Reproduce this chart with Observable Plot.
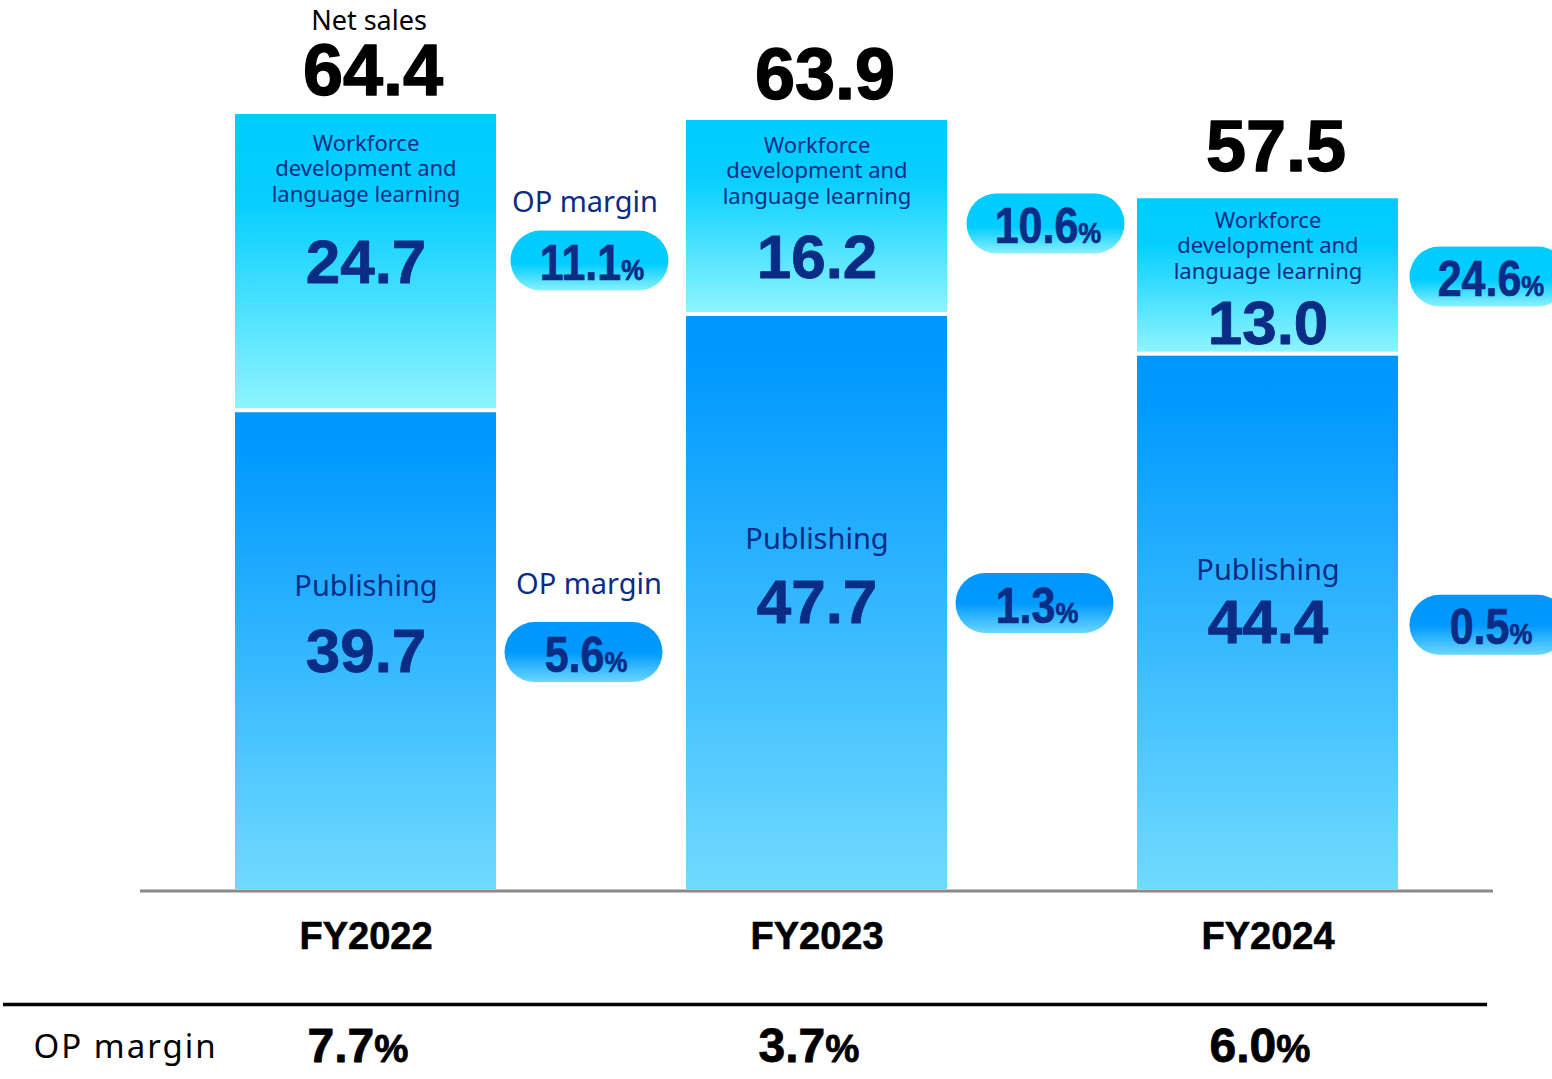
<!DOCTYPE html>
<html><head><meta charset="utf-8">
<script src="https://cdn.jsdelivr.net/npm/d3@7"></script>
<script src="https://cdn.jsdelivr.net/npm/@observablehq/plot@0.6"></script>
<style>
html,body{margin:0;padding:0;background:#fff;overflow:hidden}
#chart svg{display:block}
</style>
</head><body><div id="chart"></div>
<script>
// ---- data ----
const years = ["FY2022", "FY2023", "FY2024"];
const netSales = [64.4, 63.9, 57.5];
const publishing = [39.7, 47.7, 44.4];
const workforce = [24.7, 16.2, 13.0];
const opMarginWorkforce = [11.1, 10.6, 24.6];
const opMarginPublishing = [5.6, 1.3, 0.5];
const opMarginTotal = [7.7, 3.7, 6.0];
const wfLabel = "Workforce\ndevelopment and\nlanguage learning";
const pubLabel = "Publishing";
const netSalesLabel = "Net sales";
const opLabel = "OP margin";

const rows = years.map((year, i) => ({
  year, total: netSales[i], pub: publishing[i], wf: workforce[i],
  opWf: opMarginWorkforce[i], opPub: opMarginPublishing[i], opTot: opMarginTotal[i]
}));

// ---- layout (pixels) ----
const W = 1552, H = 1079;
const mT = 114, mB = 190, mL = 140, mR = 59;
const yMax = d3.max(rows, d => d.pub + d.wf);
const pxPerUnit = (H - mT - mB) / yMax;
const pillHalf = 30 / pxPerUnit;
const L = {
  totalDy: [-20, -22, -27], totalDx: [7, 8, 8],
  wfLabelDy: [18, 14, 11],
  wfValueDy: [149, 138, 125],
  pubLabelDy: [-64, -63, -52],
  pubValueDy: [2, 1, 1],
  wfPillDx: [224, 229, 221], wfPillDy: [-2, 6, 0],
  pubPillDx: [218, 218, 221], pubPillDy: [2, 1, 3]
};
const navy = "#0a2c84";
const sans = "'Noto Sans', 'Open Sans', sans-serif";
const num = "'Liberation Sans', Arial, sans-serif";
const PILL_FS = 50, ROW_FS = 48;
const fmt = v => v.toFixed(1);

const perYear = years.flatMap((yr, i) => {
  const d = rows.filter(r => r.year === yr);
  const wfMid = r => r.pub + r.wf / 2;
  const pubMid = r => r.pub / 2;
  return [
    Plot.text(d, {x: "year", y: "total", text: r => fmt(r.total), lineAnchor: "bottom",
      dy: L.totalDy[i], dx: L.totalDx[i], fontSize: 72, fontWeight: "bold", fontFamily: num,
      fill: "#000", stroke: "#000", strokeWidth: 1.4}),
    Plot.text(d, {x: "year", y: r => r.pub + r.wf, text: () => wfLabel, lineAnchor: "top",
      dy: L.wfLabelDy[i], fontSize: 22, lineHeight: 1.16, fontFamily: sans, fill: navy}),
    Plot.text(d, {x: "year", y: r => r.pub + r.wf, text: r => fmt(r.wf), lineAnchor: "middle",
      dy: L.wfValueDy[i], fontSize: 62, fontWeight: "bold", fontFamily: num, fill: navy, stroke: navy, strokeWidth: 0.8}),
    Plot.text(d, {x: "year", y: pubMid, text: () => pubLabel, lineAnchor: "middle",
      dy: L.pubLabelDy[i], fontSize: 29, fontFamily: sans, fill: navy}),
    Plot.text(d, {x: "year", y: pubMid, text: r => fmt(r.pub), lineAnchor: "middle",
      dy: L.pubValueDy[i], fontSize: 62, fontWeight: "bold", fontFamily: num, fill: navy, stroke: navy, strokeWidth: 0.8}),
    Plot.barY(d, {x: "year", y1: r => wfMid(r) - pillHalf, y2: r => wfMid(r) + pillHalf,
      rx: 30, insetLeft: 51.5, insetRight: 51.5, dx: L.wfPillDx[i], dy: L.wfPillDy[i], fill: "url(#gPillWf)"}),
    Plot.text(d, {x: "year", y: wfMid, text: r => fmt(r.opWf) + "%", lineAnchor: "middle",
      dx: L.wfPillDx[i] + 2, dy: L.wfPillDy[i] + 3, fontSize: PILL_FS, fontWeight: "bold", fontFamily: num, fill: navy, stroke: navy, strokeWidth: 0.7}),
    Plot.barY(d, {x: "year", y1: r => pubMid(r) - pillHalf, y2: r => pubMid(r) + pillHalf,
      rx: 30, insetLeft: 51.5, insetRight: 51.5, dx: L.pubPillDx[i], dy: L.pubPillDy[i], fill: "url(#gPillPub)"}),
    Plot.text(d, {x: "year", y: pubMid, text: r => fmt(r.opPub) + "%", lineAnchor: "middle",
      dx: L.pubPillDx[i] + 2, dy: L.pubPillDy[i] + 3, fontSize: PILL_FS, fontWeight: "bold", fontFamily: num, fill: navy, stroke: navy, strokeWidth: 0.7})
  ];
});

const first = rows.slice(0, 1);
const chart = Plot.plot({
  width: W, height: H,
  marginTop: mT, marginBottom: mB, marginLeft: mL, marginRight: mR,
  style: {background: "#fff", overflow: "hidden"},
  x: {domain: years, paddingInner: 190 / 451, paddingOuter: 95 / 451, align: 0.5, axis: null},
  y: {domain: [0, yMax], axis: null},
  marks: [
    Plot.barY(rows, {x: "year", y1: 0, y2: "pub", insetTop: 1, fill: "url(#gPub)"}),
    Plot.barY(rows, {x: "year", y1: "pub", y2: r => r.pub + r.wf, insetBottom: 3, fill: "url(#gWf)"}),
    Plot.ruleY([0], {stroke: "#8a8a8a", strokeWidth: 3, dy: 1.5}),
    ...perYear,
    Plot.text(first, {x: "year", y: "total", text: () => netSalesLabel, lineAnchor: "bottom",
      dy: -85, dx: 3, fontSize: 27, fontFamily: sans, fill: "#000"}),
    Plot.text(first, {x: "year", y: r => r.pub + r.wf / 2, text: () => opLabel, lineAnchor: "middle",
      dx: 219, dy: -60, fontSize: 29, fontFamily: sans, fill: navy}),
    Plot.text(first, {x: "year", y: r => r.pub / 2, text: () => opLabel, lineAnchor: "middle",
      dx: 223, dy: -66, fontSize: 29, fontFamily: sans, fill: navy}),
    // category labels
    Plot.text(rows, {x: "year", frameAnchor: "bottom", text: "year", lineAnchor: "middle",
      dy: 47, fontSize: 38, fontWeight: "bold", fontFamily: num, fill: "#000", stroke: "#000", strokeWidth: 0.6}),
    // bottom separator
    Plot.ruleY([0], {stroke: "#000", strokeWidth: 3.5, dy: 115, insetLeft: -137, insetRight: 6}),
    // OP margin row
    Plot.text([opLabel], {text: d => d, frameAnchor: "bottom-left", textAnchor: "start", lineAnchor: "middle",
      dx: -107, dy: 158, fontSize: 33, fontFamily: sans, fill: "#000"}),
    Plot.text(rows, {x: "year", frameAnchor: "bottom", text: r => fmt(r.opTot) + "%", lineAnchor: "middle",
      dx: -8, dy: 157, fontSize: ROW_FS, fontWeight: "bold", fontFamily: num, fill: "#000", stroke: "#000", strokeWidth: 0.8})
  ]
});

// gradients
const svgEl = chart.tagName.toLowerCase() === "svg" ? chart : chart.querySelector("svg");
const svg = d3.select(svgEl);
const defs = svg.insert("defs", ":first-child");
function grad(id, stops) {
  const g = defs.append("linearGradient").attr("id", id).attr("x1", 0).attr("y1", 0).attr("x2", 0).attr("y2", 1);
  stops.forEach(([o, c]) => g.append("stop").attr("offset", o).attr("stop-color", c));
}
grad("gWf", [[0, "#00CCFF"], [0.3, "#06CEFF"], [1, "#8EF4FF"]]);
grad("gPub", [[0, "#0096FF"], [0.08, "#0099FF"], [1, "#70DAFF"]]);
grad("gPillWf", [[0, "#00CCFF"], [0.55, "#00CCFF"], [1, "#8CF0FF"]]);
grad("gPillPub", [[0, "#0096FF"], [0.5, "#0099FF"], [1, "#6AD6FF"]]);

// smaller percent signs, condensed pill numbers, letter spacing on row label
function condense(t, s) {
  const tr = t.getAttribute("transform");
  if (tr) t.setAttribute("transform", tr + ` scale(${s},1)`);
  else {
    const x = +t.getAttribute("x") || 0, y = +t.getAttribute("y") || 0;
    t.setAttribute("transform", `translate(${x},${y}) scale(${s},1) translate(${-x},${-y})`);
  }
}
svg.selectAll("text").each(function() {
  const t = this;
  const s = t.textContent;
  const fs = +t.closest("g").getAttribute("font-size");
  if (/^[\d.]+%$/.test(s)) {
    const isRow = fs === ROW_FS;
    t.textContent = s.slice(0, -1);
    const ts = document.createElementNS("http://www.w3.org/2000/svg", "tspan");
    ts.setAttribute("font-size", isRow ? "0.8em" : "0.6em");
    ts.textContent = "%";
    t.appendChild(ts);
    if (!isRow) condense(t, 0.86);
  }
  if (s === opLabel && fs === 33) {
    t.setAttribute("letter-spacing", "2px");
  }
});

document.getElementById("chart").appendChild(chart);
</script>
</body></html>
